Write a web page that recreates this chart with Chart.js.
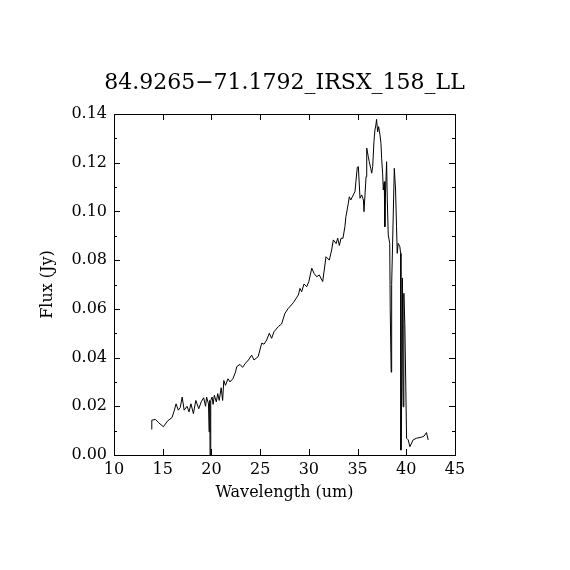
<!DOCTYPE html>
<html>
<head>
<meta charset="utf-8">
<script src="https://cdn.jsdelivr.net/npm/chart.js@4.4.0/dist/chart.umd.min.js"></script>
<style>
  html, body { margin: 0; padding: 0; background: #fff; }
  #wrap { width: 570px; height: 570px; }
</style>
</head>
<body>
<div id="wrap"><canvas id="specChart" width="570" height="570"></canvas></div>
<script>
// Spectrum
const wavelength = [
    13.87, 13.88, 14.25, 14.6, 15.07, 15.5, 15.96, 16.2, 16.37, 16.6,
    16.8, 17.0, 17.2, 17.5, 17.7, 17.9, 18.15, 18.4, 18.7, 18.95,
    19.2, 19.4, 19.5, 19.7, 19.76, 19.83, 19.86, 19.93, 20.07, 20.17,
    20.3, 20.5, 20.65, 20.8, 21.0, 21.15, 21.27, 21.44, 21.7, 21.9,
    22.2, 22.47, 22.6, 22.93, 23.2, 23.5, 23.8, 24.13, 24.37, 24.8,
    25.16, 25.4, 25.67, 25.94, 26.18, 26.42, 26.86, 27.2, 27.55, 27.89,
    28.4, 28.92, 29.09, 29.26, 29.5, 29.78, 30.0, 30.3, 30.53, 30.8,
    31.07, 31.42, 31.76, 32.1, 32.34, 32.51, 32.8, 32.96, 33.13, 33.3,
    33.5, 33.7, 33.8, 34.05, 34.15, 34.3, 34.5, 34.73, 34.83, 34.97,
    35.08, 35.25, 35.42, 35.6, 35.66, 35.87, 35.94, 36.1, 36.2, 36.35,
    36.45, 36.55, 36.68, 36.78, 36.88, 36.95, 37.06, 37.16, 37.3, 37.4,
    37.47, 37.57, 37.64, 37.74, 37.8, 37.85, 37.98, 38.05, 38.15, 38.3,
    38.35, 38.45, 38.5, 38.77, 38.9, 39.0, 39.07, 39.17, 39.34, 39.42,
    39.45, 39.55, 39.6, 39.68, 39.75, 39.85, 39.95, 40.03, 40.2, 40.37,
    40.7, 41.05, 41.56, 41.83, 42.07, 42.25
];
const flux = [
    0.0105, 0.0143, 0.0146, 0.0132, 0.0116, 0.0140, 0.0154, 0.0184, 0.0210, 0.0184,
    0.0195, 0.0238, 0.0184, 0.0200, 0.0177, 0.0210, 0.0170, 0.0224, 0.0190, 0.0218,
    0.0235, 0.0200, 0.0238, 0.0210, 0.0095, 0.0224, 0.0000, 0.0224, 0.0238, 0.0208,
    0.0245, 0.0218, 0.0252, 0.0224, 0.0276, 0.0224, 0.0306, 0.0286, 0.0313, 0.0300,
    0.0313, 0.0340, 0.0363, 0.0372, 0.0360, 0.0377, 0.0390, 0.0410, 0.0390, 0.0404,
    0.0459, 0.0455, 0.0472, 0.0500, 0.0479, 0.0506, 0.0527, 0.0538, 0.0582, 0.0602,
    0.0625, 0.0657, 0.0684, 0.0670, 0.0702, 0.0691, 0.0712, 0.0767, 0.0746, 0.0732,
    0.0739, 0.0712, 0.0814, 0.0800, 0.0842, 0.0883, 0.0868, 0.0890, 0.0860, 0.0890,
    0.0890, 0.0937, 0.0978, 0.1033, 0.1060, 0.1047, 0.1063, 0.1081, 0.1122, 0.1181,
    0.1184, 0.1054, 0.1068, 0.1047, 0.0999, 0.1143, 0.1260, 0.1225, 0.1204, 0.1177,
    0.1157, 0.1184, 0.1286, 0.1334, 0.1355, 0.1378, 0.1327, 0.1348, 0.1314, 0.1280,
    0.1218, 0.1157, 0.1088, 0.1122, 0.0937, 0.1054, 0.1204, 0.1047, 0.0903, 0.0869,
    0.0600, 0.0340, 0.0700, 0.1177, 0.1088, 0.0937, 0.0828, 0.0869, 0.0855, 0.0828,
    0.0020, 0.0300, 0.0727, 0.0198, 0.0664, 0.0540, 0.0280, 0.0069, 0.0062, 0.0034,
    0.0062, 0.0069, 0.0073, 0.0078, 0.0092, 0.0062
];

const xTickValues = [10, 15, 20, 25, 30, 35, 40, 45];
const yTickValues = [0, 0.02, 0.04, 0.06, 0.08, 0.10, 0.12, 0.14];
const yMinorStep = 0.01;

const titleText = '84.9265\u221271.1792_IRSX_158_LL';
const serif = '"DejaVu Serif", "Liberation Serif", serif';

// frame + inward ticks on all four sides, plus the title
const framePlugin = {
    id: 'frame',
    afterDraw(chart) {
        const ctx = chart.ctx;
        const area = chart.chartArea;
        const xs = chart.scales.x;
        const ys = chart.scales.y;
        ctx.save();
        ctx.strokeStyle = '#000';
        ctx.lineWidth = 1;
        ctx.strokeRect(area.left + 0.5, area.top + 0.5, area.right - area.left, area.bottom - area.top);

        ctx.beginPath();
        xTickValues.forEach(v => {
            const px = Math.round(xs.getPixelForValue(v)) + 0.5;
            ctx.moveTo(px, area.bottom); ctx.lineTo(px, area.bottom - 6);
            ctx.moveTo(px, area.top); ctx.lineTo(px, area.top + 6);
        });
        yTickValues.forEach(v => {
            const py = Math.round(ys.getPixelForValue(v)) + 0.5;
            ctx.moveTo(area.left, py); ctx.lineTo(area.left + 6, py);
            ctx.moveTo(area.right, py); ctx.lineTo(area.right - 6, py);
        });
        for (let i = 0; i < yTickValues.length - 1; i++) {
            const py = Math.round(ys.getPixelForValue(yTickValues[i] + yMinorStep)) + 0.5;
            ctx.moveTo(area.left, py); ctx.lineTo(area.left + 3, py);
            ctx.moveTo(area.right, py); ctx.lineTo(area.right - 3, py);
        }
        ctx.stroke();

        ctx.fillStyle = '#000';
        ctx.font = '22px ' + serif;
        ctx.textAlign = 'center';
        ctx.textBaseline = 'middle';
        ctx.fillText(titleText, (area.left + area.right) / 2, 83);
        ctx.restore();
    }
};

document.addEventListener('DOMContentLoaded', function() {
    const ctx = document.getElementById('specChart');
    const points = wavelength.map((w, i) => ({ x: w, y: flux[i] }));

    new Chart(ctx, {
        type: 'line',
        data: {
            datasets: [{
                data: points,
                borderColor: '#000',
                borderWidth: 1,
                pointRadius: 0,
                tension: 0,
                fill: false
            }]
        },
        options: {
            responsive: false,
            animation: false,
            layout: {
                padding: { left: 0, right: 115, top: 114, bottom: 0 }
            },
            plugins: {
                legend: { display: false },
                tooltip: { enabled: false }
            },
            scales: {
                x: {
                    type: 'linear',
                    min: 10,
                    max: 45,
                    afterBuildTicks: function(scale) {
                        scale.ticks = xTickValues.map(v => ({ value: v }));
                    },
                    afterFit: function(scale) {
                        scale.height = 115;
                    },
                    grid: { display: false, drawTicks: false },
                    border: { display: false },
                    ticks: {
                        color: '#000',
                        padding: 5,
                        maxRotation: 0,
                        font: { family: serif, size: 16 }
                    },
                    title: {
                        display: true,
                        text: 'Wavelength (um)',
                        color: '#000',
                        font: { family: serif, size: 16 },
                        padding: { top: 0, bottom: 68 }
                    }
                },
                y: {
                    min: 0,
                    max: 0.14,
                    afterBuildTicks: function(scale) {
                        scale.ticks = yTickValues.map(v => ({ value: v }));
                    },
                    afterFit: function(scale) {
                        scale.width = 114;
                    },
                    grid: { display: false, drawTicks: false },
                    border: { display: false },
                    ticks: {
                        color: '#000',
                        padding: 7,
                        font: { family: serif, size: 16 },
                        callback: function(value) {
                            return value.toFixed(2);
                        }
                    },
                    title: {
                        display: true,
                        text: 'Flux (Jy)',
                        color: '#000',
                        font: { family: serif, size: 16 },
                        padding: { top: 38, bottom: 0 }
                    }
                }
            }
        },
        plugins: [framePlugin]
    });
});
</script>
</body>
</html>
